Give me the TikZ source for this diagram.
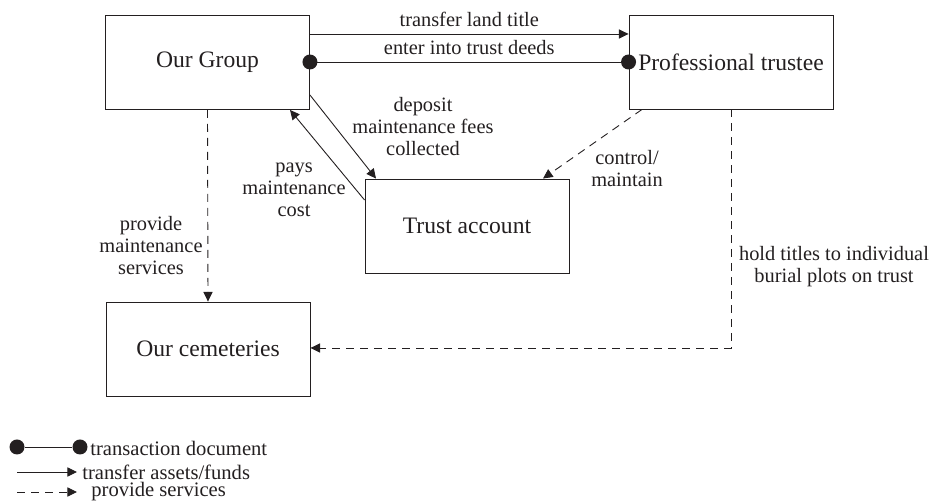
\documentclass[tikz,border=0pt]{standalone}
\usepackage{fontspec}
\setmainfont{Liberation Serif}
\usetikzlibrary{arrows.meta}
\definecolor{ink}{RGB}{35,31,32}
\tikzset{
  box/.style={draw=ink, line width=0.45pt, minimum width=102pt, minimum height=47pt,
    inner sep=0pt, font=\fontsize{11.8}{14}\selectfont, text=ink},
  lbl/.style={align=center, inner sep=0pt, font=\fontsize{10.2}{11}\selectfont, text=ink},
  leg/.style={anchor=west, inner sep=0pt, font=\fontsize{10.3}{12}\selectfont, text=ink},
  conn/.style={draw=ink, line width=0.45pt},
  arr/.style={conn, -{Triangle[length=4.8pt,width=4.6pt]}},
  svc/.style={arr, dash pattern=on 4pt off 3pt},
  dot/.style={fill=ink, draw=none, circle, minimum size=7.5pt, inner sep=0pt},
}
\begin{document}
\begin{tikzpicture}[x=0.5pt, y=-0.5pt]
\useasboundingbox (0,0) rectangle (933,501);

% parties
\node[box] (og) at (207.5,62.5) {Our Group};
\node[box] (pt) at (731,62) {Professional trustee};
\node[box] (ta) at (467,226) {Trust account};
\node[box] (oc) at (208,349) {Our cemeteries};

% transfers of assets and funds
\draw[arr] (og.east |- 0,34) -- node[lbl, above=3.6pt] {transfer land title} (pt.west |- 0,34);
\draw[arr] (og.east |- 0,95) -- (ta.north west -| 376,0);
\draw[arr] (ta.west |- 0,200) -- (og.south west -| 290,0);

% trust deeds (transaction document)
\draw[conn] (og.east |- 0,62) -- node[lbl, above=3.6pt] {enter into trust deeds} (pt.west |- 0,62);
\node[dot] (d1) at (og.east |- 0,62) {};
\node[dot] (d2) at (pt.west |- 0,62) {};

% services
\draw[svc] (pt.south west -| 642,0) -- (ta.north west -| 543,0);
\draw[svc] (og.south) -- (oc.north);
\coordinate (bend) at (pt.south |- 0,348);
\draw[svc] (pt.south) -- (bend) -- (oc.east |- bend);

% edge labels
\node[lbl] (l1) at (423,127) {deposit\\maintenance fees\\collected};
\node[lbl] (l2) at (294,190) {pays\\maintenance\\cost};
\node[lbl] (l3) at (627,169) {control/\\maintain};
\node[lbl] (l4) at (151,246) {provide\\maintenance\\services};
\node[lbl] (l5) at (834,267) {hold titles to individual\\burial plots on trust};

% legend
\node[dot] (k1) at (17,447) {};
\node[dot] (k2) at (80,447) {};
\draw[conn] (k1) -- (k2);
\node[leg] (t1) at (90,448) {transaction document};
\coordinate (k3) at (17,472);
\coordinate (k4) at (77,472);
\draw[arr] (k3) -- (k4);
\node[leg] (t2) at (82,472) {transfer assets/funds};
\coordinate (k5) at (17,492);
\coordinate (k6) at (77,492);
\draw[svc] (k5) -- (k6);
\node[leg] (t3) at (91,492) {provide services};
\end{tikzpicture}
\end{document}
